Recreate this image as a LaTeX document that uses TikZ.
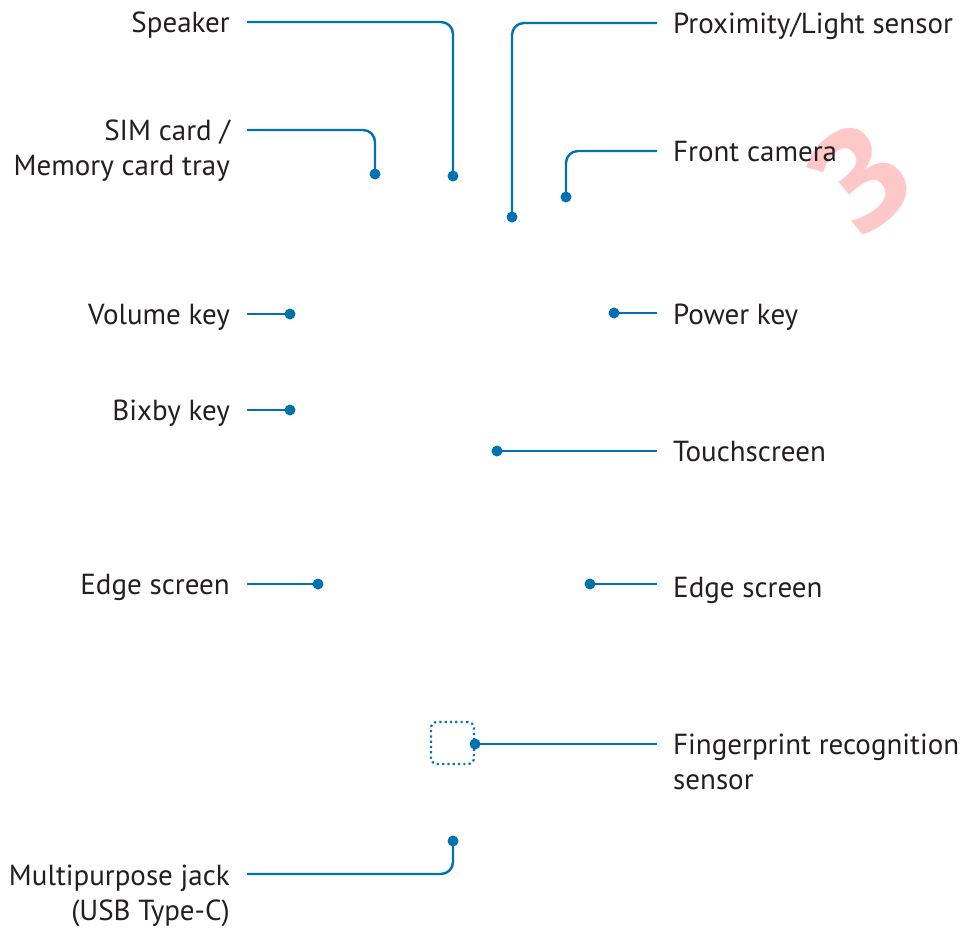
\documentclass[tikz,border=0pt]{standalone}
\usepackage{fontspec}
\setmainfont{PT Sans}
\newfontfamily\markfont{Open Sans}
\usetikzlibrary{positioning}
\definecolor{calloutblue}{RGB}{0,114,176}
\definecolor{labelgray}{RGB}{35,31,32}
\definecolor{markpink}{RGB}{255,200,200}
\tikzset{
  lbl/.style={inner sep=0pt, text=labelgray, font=\fontsize{29}{35}\selectfont},
  lblL/.style={lbl, anchor=base east, align=right},
  lblR/.style={lbl, anchor=base west, align=left},
  callout/.style={draw=calloutblue, line width=2.4pt, rounded corners=12pt},
  pin/.style={circle, fill=calloutblue, inner sep=0pt, minimum size=11pt},
  sensorbox/.style={draw=calloutblue, line width=2.2pt, rounded corners=6pt,
    dash pattern=on 2.2pt off 3.1pt, minimum width=43pt, minimum height=42pt, inner sep=0pt},
}
\begin{document}
\begin{tikzpicture}[x=1pt,y=-1pt]
\useasboundingbox (0,0) rectangle (967,932);
% pink mark behind the labels
\node[text=markpink, rotate=40, inner sep=0pt, font=\markfont\bfseries\fontsize{140}{140}\selectfont] (mark) at (860,178) {3};

% left column
\node[lblL] (speaker) at (230,32) {Speaker};
\node[pin] (speakerpin) at (453,176) {};
\draw[callout] ([shift={(17,-10)}]speaker.base east) -| (speakerpin.center);

\node[lblL] (simtray) at (230,175) {SIM card /\\Memory card tray};
\node[pin] (simpin) at (375,174) {};
\draw[callout] ([shift={(17,-45)}]simtray.base east) -| (simpin.center);

\node[lblL] (volume) at (230,324) {Volume key};
\node[pin] (volumepin) at (290,314) {};
\draw[callout] ([shift={(17,-10)}]volume.base east) -- (volumepin.center);

\node[lblL] (bixby) at (230,420) {Bixby key};
\node[pin] (bixbypin) at (290,410) {};
\draw[callout] ([shift={(17,-10)}]bixby.base east) -- (bixbypin.center);

\node[lblL] (edgeL) at (230,594) {Edge screen};
\node[pin] (edgeLpin) at (318,584) {};
\draw[callout] ([shift={(17,-10)}]edgeL.base east) -- (edgeLpin.center);

\node[lblL] (jack) at (230,920) {Multipurpose jack\\(USB Type-C)};
\node[pin] (jackpin) at (453,841) {};
\draw[callout] ([shift={(17,-46)}]jack.base east) -| (jackpin.center);

% right column
\node[lblR] (proximity) at (673,33) {Proximity/Light sensor};
\node[pin] (proxpin) at (512,217) {};
\draw[callout] ([shift={(-16,-10)}]proximity.base west) -| (proxpin.center);

\node[lblR] (camera) at (673,161) {Front camera};
\node[pin] (camerapin) at (566,197) {};
\draw[callout] ([shift={(-16,-10)}]camera.base west) -| (camerapin.center);

\node[lblR] (power) at (673,324) {Power key};
\node[pin] (powerpin) at (614,313) {};
\draw[callout] ([shift={(-16,-11)}]power.base west) -- (powerpin.center);

\node[lblR] (touch) at (673,461) {Touchscreen};
\node[pin] (touchpin) at (497,451) {};
\draw[callout] ([shift={(-16,-10)}]touch.base west) -- (touchpin.center);

\node[lblR] (edgeR) at (673,597) {Edge screen};
\node[pin] (edgeRpin) at (590,584) {};
\draw[callout] ([shift={(-16,-13)}]edgeR.base west) -- (edgeRpin.center);

\node[sensorbox] (fpsensor) at (452.5,743) {};
\node[lblR] (finger) at (673,789) {Fingerprint recognition\\sensor};
\node[pin] (fingerpin) at (475,744) {};
\draw[callout] ([shift={(-16,-45)}]finger.base west) -- (fingerpin.center);
\end{tikzpicture}
\end{document}
